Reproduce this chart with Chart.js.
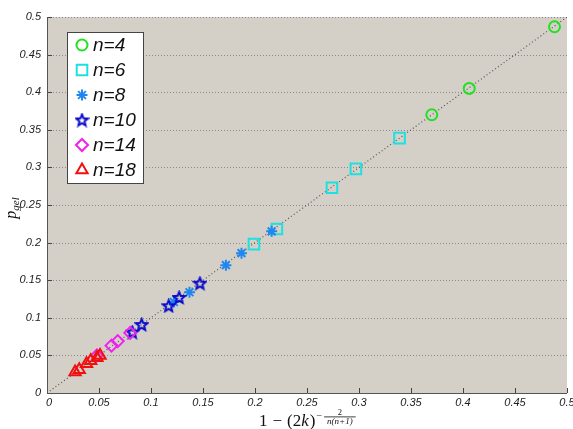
<!DOCTYPE html>
<html><head><meta charset="utf-8">
<style>html,body{margin:0;padding:0;background:#fff}#wrap{width:573px;height:429px}</style>
<script src="https://cdn.jsdelivr.net/npm/chart.js@4.4.1/dist/chart.umd.min.js"></script>
</head><body><div id="wrap"><canvas id="c" width="573" height="429"></canvas></div>
<script>
// ---- data ----
const seriesLabels = ['n=4', 'n=6', 'n=8', 'n=10', 'n=14', 'n=18'];
const n4x  = [0.370, 0.406, 0.488];
const n4y  = [0.370, 0.405, 0.487];
const n6x  = [0.199, 0.221, 0.274, 0.297, 0.339];
const n6y  = [0.198, 0.218, 0.273, 0.298, 0.339];
const n8x  = [0.122, 0.137, 0.172, 0.187, 0.216];
const n8y  = [0.121, 0.134, 0.170, 0.186, 0.215];
const n10x = [0.082, 0.091, 0.117, 0.127, 0.147];
const n10y = [0.081, 0.091, 0.116, 0.127, 0.146];
const n14x = [0.048, 0.062, 0.068, 0.080];
const n14y = [0.050, 0.063, 0.069, 0.080];
const n18x = [0.027, 0.031, 0.038, 0.042, 0.048, 0.051];
const n18y = [0.028, 0.031, 0.039, 0.043, 0.047, 0.050];
const diagX = [0, 0.5];
const diagY = [0, 0.5];
const xTickLabels = ['0','0.05','0.1','0.15','0.2','0.25','0.3','0.35','0.4','0.45','0.5'];
const yTickLabels = ['0','0.05','0.1','0.15','0.2','0.25','0.3','0.35','0.4','0.45','0.5'];

function pts(xs, ys) { return xs.map((x, i) => ({x: x, y: ys[i]})); }

// pentagram marker for n=10
function makeStar(color, size) {
  const c = document.createElement('canvas');
  c.width = size; c.height = size;
  const g = c.getContext('2d');
  const cx = size / 2, cy = size / 2 + 0.5, R = size / 2 - 1.5, r = R * 0.45;
  g.beginPath();
  for (let i = 0; i < 10; i++) {
    const a = -Math.PI / 2 + i * Math.PI / 5;
    const rad = i % 2 === 0 ? R : r;
    const px = cx + rad * Math.cos(a), py = cy + rad * Math.sin(a);
    if (i === 0) g.moveTo(px, py); else g.lineTo(px, py);
  }
  g.closePath();
  g.lineWidth = 2; g.strokeStyle = color; g.lineJoin = 'miter';
  g.stroke();
  return c;
}
const starImg = makeStar('#0a0acc', 15);

const styles = [
  {color: '#22e022', pointStyle: 'circle',   radius: 5.5},
  {color: '#1ee0e0', pointStyle: 'rect',     radius: 7.5},
  {color: '#1e88f0', pointStyle: 'star',     radius: 5.5},
  {color: '#0a0acc', pointStyle: starImg,    radius: 7},
  {color: '#f020f0', pointStyle: 'rectRot',  radius: 6},
  {color: '#f01010', pointStyle: 'triangle', radius: 6.5}
];
const seriesData = [pts(n4x, n4y), pts(n6x, n6y), pts(n8x, n8y), pts(n10x, n10y), pts(n14x, n14y), pts(n18x, n18y)];

const datasets = [{
  type: 'line', label: 'diag', data: pts(diagX, diagY),
  borderColor: '#555', borderWidth: 1.2, borderDash: [1, 2.5], pointRadius: 0, fill: false, order: 10
}];
seriesData.forEach((d, i) => {
  datasets.push({
    type: 'scatter', label: seriesLabels[i], data: d,
    borderColor: styles[i].color, backgroundColor: 'rgba(0,0,0,0)',
    pointStyle: styles[i].pointStyle, pointRadius: styles[i].radius,
    pointBorderWidth: 2, pointHoverRadius: styles[i].radius, order: 6 - i
  });
});

const tickFont = 'italic 11px "Liberation Sans", Arial, sans-serif';

const bgPlugin = {
  id: 'bg',
  beforeDraw(chart) {
    const {ctx, chartArea: a} = chart;
    ctx.save(); ctx.fillStyle = '#d4d0c8';
    ctx.fillRect(a.left, a.top, a.right - a.left, a.bottom - a.top);
    ctx.restore();
  },
  beforeDatasetsDraw(chart) {
    const {ctx, chartArea: a, scales} = chart;
    ctx.save();
    // dotted horizontal grid
    ctx.strokeStyle = '#8a8a8a'; ctx.lineWidth = 1; ctx.setLineDash([1, 2]);
    scales.y.ticks.forEach(t => {
      const y = Math.round(scales.y.getPixelForValue(t.value)) + 0.5;
      if (t.value === 0) return;
      ctx.beginPath(); ctx.moveTo(a.left, y); ctx.lineTo(a.right, y); ctx.stroke();
    });
    ctx.setLineDash([]);
    ctx.strokeStyle = '#444';
    // inward tick marks
    scales.y.ticks.forEach(t => {
      const y = Math.round(scales.y.getPixelForValue(t.value)) + 0.5;
      ctx.beginPath(); ctx.moveTo(a.left, y); ctx.lineTo(a.left + 5, y); ctx.stroke();
    });
    scales.x.ticks.forEach(t => {
      const x = Math.round(scales.x.getPixelForValue(t.value)) + 0.5;
      ctx.beginPath(); ctx.moveTo(x, a.bottom); ctx.lineTo(x, a.bottom - 5); ctx.stroke();
    });
    // axis lines
    ctx.strokeStyle = '#555';
    ctx.beginPath();
    ctx.moveTo(Math.round(a.left) + 0.5, a.top); ctx.lineTo(Math.round(a.left) + 0.5, a.bottom + 0.5);
    ctx.lineTo(a.right, a.bottom + 0.5); ctx.stroke();
    // x tick labels, placed by the x scale
    ctx.fillStyle = '#222'; ctx.font = tickFont;
    ctx.textAlign = 'center'; ctx.textBaseline = 'top';
    scales.x.ticks.forEach((t, i) => {
      ctx.fillText(xTickLabels[i], scales.x.getPixelForValue(t.value) + (i === 0 ? 2 : 0), a.bottom + 4);
    });
    ctx.restore();
  },
  afterDraw(chart) {
    const {ctx, chartArea: a} = chart;
    ctx.save();
    // ---- legend ----
    const lx = 67, ly = 32, lw = 76, lh = 151;
    ctx.fillStyle = '#fff'; ctx.fillRect(lx, ly, lw, lh);
    ctx.strokeStyle = '#444'; ctx.lineWidth = 1;
    ctx.strokeRect(lx + 0.5, ly + 0.5, lw, lh);
    ctx.font = 'italic 19px "Liberation Sans", Arial, sans-serif';
    ctx.textBaseline = 'middle'; ctx.textAlign = 'left';
    seriesLabels.forEach((lab, i) => {
      const y = 45 + i * 25;
      const st = styles[i];
      if (typeof st.pointStyle !== 'string') {
        ctx.drawImage(st.pointStyle, 82 - st.pointStyle.width / 2, y - st.pointStyle.height / 2);
      } else if (Chart.helpers && Chart.helpers.drawPoint) {
        ctx.strokeStyle = st.color; ctx.fillStyle = 'rgba(0,0,0,0)'; ctx.lineWidth = 2;
        Chart.helpers.drawPoint(ctx, {pointStyle: st.pointStyle, radius: st.radius, borderWidth: 2, rotation: 0}, 82, y);
      }
      ctx.fillStyle = '#111';
      ctx.fillText(lab, 93, y + 1);
    });
    // ---- x axis title: 1 − (2k)^{−2/(n(n+1))} ----
    const by = 426;
    const big = '17px "Liberation Serif", "DejaVu Serif", serif';
    const bigI = 'italic 17px "Liberation Serif", "DejaVu Serif", serif';
    const sm = '10px "Liberation Serif", serif';
    const tiny = '8.5px "Liberation Serif", serif';
    const tinyI = 'italic 9px "Liberation Serif", serif';
    let x = 259;
    ctx.fillStyle = '#111'; ctx.textBaseline = 'alphabetic'; ctx.textAlign = 'left';
    ctx.font = big;
    ctx.fillText('1', x, by); x += ctx.measureText('1').width + 5;
    ctx.fillText('\u2212', x, by); x += ctx.measureText('\u2212').width + 5;
    ctx.fillText('(2', x, by); x += ctx.measureText('(2').width;
    ctx.font = bigI; ctx.fillText('k', x, by); x += ctx.measureText('k').width + 1;
    ctx.font = big; ctx.fillText(')', x, by); x += ctx.measureText(')').width + 1;
    ctx.font = sm; ctx.fillText('\u2212', x, by - 7); x += ctx.measureText('\u2212').width + 2;
    ctx.font = tinyI;
    const wd = ctx.measureText('n(n+1)').width + 6;
    ctx.textAlign = 'center';
    ctx.font = tiny; ctx.fillText('2', x + wd / 2, by - 11);
    ctx.fillRect(x, by - 9.5, wd, 0.8);
    ctx.font = tinyI; ctx.fillText('n(n+1)', x + wd / 2, by - 2.5);
    // ---- y axis title: p_gel ----
    ctx.save();
    ctx.translate(16, 208);
    ctx.rotate(-Math.PI / 2);
    ctx.textAlign = 'left';
    ctx.font = 'italic 16px "Liberation Serif", serif';
    const wp = ctx.measureText('p').width;
    ctx.font = 'italic 11px "Liberation Serif", serif';
    const wg = ctx.measureText('gel').width;
    const sx = -(wp + wg) / 2;
    ctx.font = 'italic 16px "Liberation Serif", serif';
    ctx.fillText('p', sx, 0);
    ctx.font = 'italic 11px "Liberation Serif", serif';
    ctx.fillText('gel', sx + wp, 3);
    ctx.restore();
    ctx.restore();
  }
};

new Chart(document.getElementById('c'), {
  data: {datasets: datasets},
  options: {
    responsive: false, animation: false, devicePixelRatio: 1,
    layout: {autoPadding: false, padding: {top: 17, right: 6, left: 0, bottom: 0}},
    plugins: {legend: {display: false}, tooltip: {enabled: false}},
    scales: {
      x: {
        type: 'linear', min: 0, max: 0.5,
        afterBuildTicks(s) { s.ticks = xTickLabels.map(v => ({value: parseFloat(v)})); },
        ticks: {display: false},
        grid: {display: false, drawTicks: false}, border: {display: false},
        afterFit(s) { s.height = 36; }
      },
      y: {
        type: 'linear', min: 0, max: 0.5,
        afterBuildTicks(s) { s.ticks = yTickLabels.map(v => ({value: parseFloat(v)})); },
        ticks: {callback: (v, i) => yTickLabels[i], color: '#222', padding: 6, autoSkip: false,
                font: {family: '"Liberation Sans", Arial, sans-serif', size: 11, style: 'italic'}},
        grid: {display: false, drawTicks: false}, border: {display: false},
        afterFit(s) { s.width = 47; s.paddingTop = 0; s.paddingBottom = 0; }
      }
    }
  },
  plugins: [bgPlugin]
});
</script>
</body></html>
